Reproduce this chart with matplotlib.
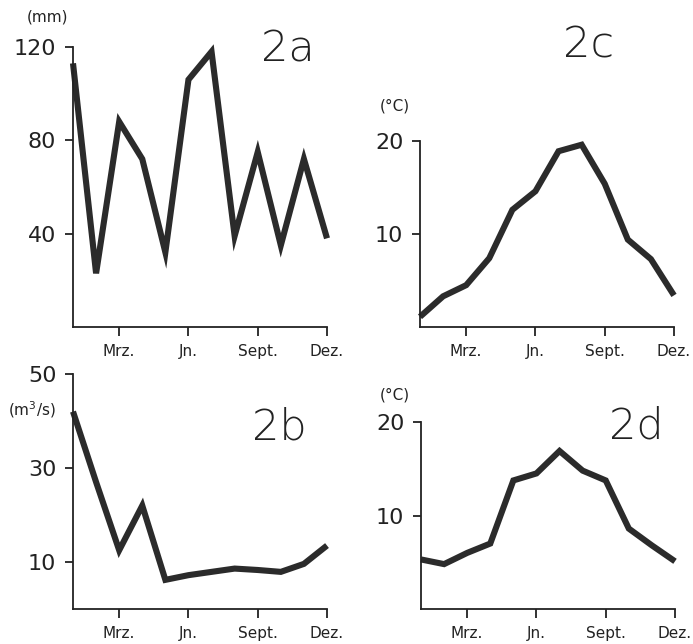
import numpy as np
import matplotlib.pyplot as plt

# monthly values, Jan..Dez
months = np.arange(1, 13)
month_ticks = [3, 6, 9, 12]
month_labels = ["Mrz.", "Jn.", "Sept.", "Dez."]

precip_mm = [113, 23, 88, 72, 32, 106, 118, 39, 75, 35, 72, 38]
discharge_m3s = [42, 27, 12.5, 22, 6.2, 7.2, 7.9, 8.6, 8.3, 7.9, 9.6, 13.5]
temp_2c = [1.1, 3.3, 4.5, 7.4, 12.6, 14.6, 18.9, 19.6, 15.4, 9.4, 7.3, 3.4]
temp_2d = [5.3, 4.8, 6.0, 7.0, 13.75, 14.5, 16.9, 14.8, 13.75, 8.6, 6.8, 5.1]

LINE_COLOR = "#2b2b2b"
W, H = 693, 644


def fig_rect(left, top, right, bottom):
    # pixel box -> figure fraction
    return [left / W, 1 - bottom / H, (right - left) / W, (bottom - top) / H]


def setup_panel(ax, values, ymax, yticks):
    ax.plot(months, values, color=LINE_COLOR, lw=4.4,
            solid_joinstyle="miter", solid_capstyle="butt", clip_on=False)
    ax.set_xlim(1, 12)
    ax.set_ylim(0, ymax)
    for side in ["top", "right"]:
        ax.spines[side].set_visible(False)
    for side in ["left", "bottom"]:
        ax.spines[side].set_linewidth(1.3)
        ax.spines[side].set_color("#222222")
    ax.set_xticks(month_ticks)
    ax.set_xticklabels(month_labels)
    ax.set_yticks(yticks)
    ax.tick_params(axis="x", length=6.5, width=1.3, pad=6, labelsize=11,
                   color="#222222", labelcolor="#222222")
    ax.tick_params(axis="y", length=6, width=1.3, pad=6, labelsize=16,
                   color="#222222", labelcolor="#222222")
    ax.patch.set_alpha(0)


fig = plt.figure(figsize=(W / 100, H / 100), dpi=100)

ax_a = fig.add_axes(fig_rect(73, 47, 327, 327))
setup_panel(ax_a, precip_mm, 120, [40, 80, 120])

ax_b = fig.add_axes(fig_rect(73, 374, 327, 609))
setup_panel(ax_b, discharge_m3s, 50, [10, 30, 50])

ax_c = fig.add_axes(fig_rect(420, 141, 674, 327))
setup_panel(ax_c, temp_2c, 20, [10, 20])

ax_d = fig.add_axes(fig_rect(421, 422, 675, 609))
setup_panel(ax_d, temp_2d, 20, [10, 20])

# panel names and units
big = dict(fontsize=31, fontweight="light", ha="center", va="center",
           color="#222222")
small = dict(fontsize=11, ha="center", va="center", color="#222222")
fig.text(288 / W, 1 - 49 / H, "2a", **big)
fig.text(589 / W, 1 - 45 / H, "2c", **big)
fig.text(279 / W, 1 - 427 / H, "2b", **big)
fig.text(636 / W, 1 - 426 / H, "2d", **big)

fig.text(47 / W, 1 - 17 / H, "(mm)", **small)
fig.text(32 / W, 1 - 410 / H, "(m$^3$/s)", **small)
fig.text(395 / W, 1 - 106 / H, "(°C)", **small)
fig.text(395 / W, 1 - 395 / H, "(°C)", **small)

fig.savefig("out.png", dpi=100, facecolor="white")
